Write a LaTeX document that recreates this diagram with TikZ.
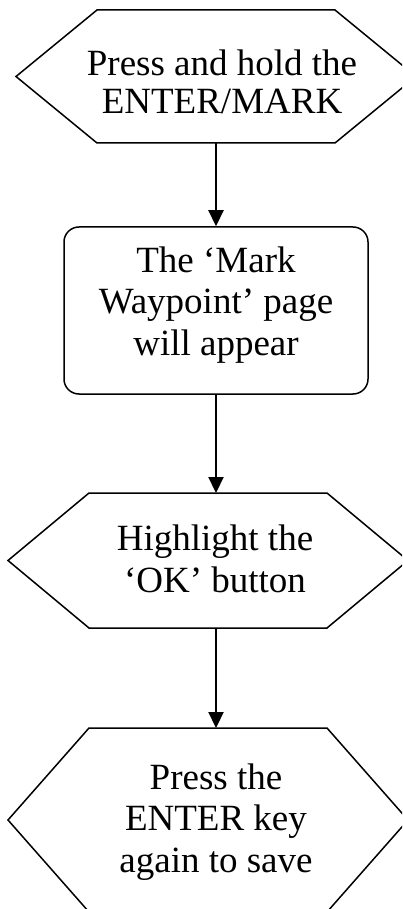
\documentclass[tikz,border=0pt]{standalone}
\usepackage{fontspec}
\setmainfont{Liberation Serif}
\usetikzlibrary{arrows.meta}

\tikzset{
  steptext/.style={align=center, anchor=base, inner sep=0pt, font=\fontsize{37}{41.5}\selectfont},
  shapeline/.style={line width=1.5pt, line join=miter},
  flowarrow/.style={line width=2.2pt, -{Triangle[width=15pt,length=16pt]}}
}

\begin{document}
\begin{tikzpicture}[x=1pt, y=-1pt]

  % Frame of the picture
  \useasboundingbox (0,0) rectangle (402,909);
  \clip (0,0) rectangle (402,909);

  \def \xMid {216}

  % First hexagon
  \def \yTopA {10}
  \def \yMidA {76.5}
  \def \yBotA {143}
  \draw[shapeline] (16, \yMidA) -- (97, \yTopA) -- (335, \yTopA)
  -- (416, \yMidA) -- (335, \yBotA) -- (97, \yBotA) -- cycle;
  \coordinate (holdS) at (\xMid, \yBotA);
  % the base of a text node is its last line
  \node[steptext, font=\fontsize{37}{38}\selectfont] (hold) at (222, 114)
  {Press and hold the\\ENTER/MARK};

  % Rounded box
  \node[draw, shapeline, rounded corners=15pt, minimum width=304pt,
  minimum height=167pt, inner sep=0pt] (markBox) at (\xMid, 310.5) {};
  \node[steptext] (markText) at (\xMid, 355)
  {The ‘Mark\\Waypoint’ page\\will appear};

  % Second hexagon
  \def \yTopB {493}
  \def \yMidB {560.5}
  \def \yBotB {628}
  \draw[shapeline] (8, \yMidB) -- (89, \yTopB) -- (327, \yTopB)
  -- (408, \yMidB) -- (327, \yBotB) -- (89, \yBotB) -- cycle;
  \coordinate (okN) at (\xMid, \yTopB);
  \coordinate (okS) at (\xMid, \yBotB);
  \node[steptext] (okText) at (215, 592) {Highlight the\\‘OK’ button};

  % Third hexagon
  \def \yTopC {728}
  \def \yMidC {820}
  \def \yBotC {912}
  \draw[shapeline] (8, \yMidC) -- (89, \yTopC) -- (327, \yTopC)
  -- (408, \yMidC) -- (327, \yBotC) -- (89, \yBotC) -- cycle;
  \coordinate (saveN) at (\xMid, \yTopC);
  \node[steptext] (saveText) at (\xMid, 872)
  {Press the\\ENTER key\\again to save};

  % LINES
  \draw[flowarrow] (holdS) -- (markBox.north);
  \draw[flowarrow] (markBox.south) -- (okN);
  \draw[flowarrow] (okS) -- (saveN);

\end{tikzpicture}
\end{document}
